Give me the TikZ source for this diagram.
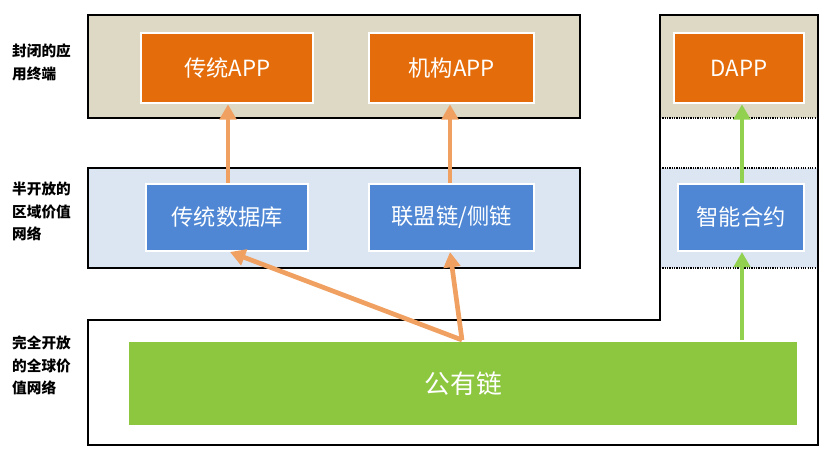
\documentclass[tikz,border=0pt]{standalone}
\usepackage{fontspec}
\setmainfont{Noto Sans CJK SC}
\usetikzlibrary{arrows.meta}
\definecolor{beige}{HTML}{DDD9C4}
\definecolor{paleblue}{HTML}{DCE6F2}
\definecolor{appor}{HTML}{E46C0A}
\definecolor{dbblue}{HTML}{4F87D4}
\definecolor{chaingreen}{HTML}{8DC63F}
\definecolor{arrowor}{HTML}{F0A060}
\definecolor{arrowgr}{HTML}{92D050}
\begin{document}
\begin{tikzpicture}[
  x=0.03cm, y=-0.03cm,
  box/.style={draw=white, line width=2pt, inner sep=0pt, text=white,
    font=\fontsize{19}{22}\selectfont, anchor=north west},
  app/.style={box, fill=appor},
  net/.style={box, fill=dbblue},
  tag/.style={align=left, anchor=north west, font=\fontsize{12.5}{19}\selectfont\bfseries, inner sep=0pt},
  upor/.style={draw=arrowor, line width=4pt, -{Triangle[length=13pt,width=14pt]}},
  upgr/.style={draw=arrowgr, line width=4pt, -{Triangle[length=13pt,width=14pt]}}
]
\useasboundingbox (0,0) rectangle (835,458);

% --- bands ---
\fill[beige] (88,15) rectangle (580,118);
\fill[paleblue] (88,168) rectangle (580,268);
\fill[beige] (660,15) rectangle (818,118);
\fill[paleblue] (660,168) rectangle (818,268);
\draw[line width=1.5pt] (88,15) rectangle (580,118);
\draw[line width=1.5pt] (88,168) rectangle (580,268);
\draw[line width=1.5pt] (88,320) -- (660,320) -- (660,15) -- (818,15) -- (818,445) -- (88,445) -- cycle;
\draw[densely dotted, line width=1pt] (660,118) -- (818,118) (660,168) -- (818,168) (660,268) -- (818,268);

% --- side labels ---
\node[tag] (t1) at (12,44) {封闭的应\\用终端};
\node[tag] (t2) at (12,182) {半开放的\\区域价值\\网络};
\node[tag] (t3) at (12,336) {完全开放\\的全球价\\值网络};

% --- boxes ---
\node[app, minimum width=5.16cm, minimum height=2.1cm] (capp) at (140,32) {传统APP};
\node[app, minimum width=4.95cm, minimum height=2.1cm] (iapp) at (368,32) {机构APP};
\node[app, minimum width=3.9cm, minimum height=2.1cm] (dapp) at (673,32) {DAPP};
\node[net, minimum width=4.86cm, minimum height=2.0cm] (db) at (145,183) {传统数据库};
\node[net, minimum width=4.95cm, minimum height=2.0cm] (alli) at (368,183) {联盟链/侧链};
\node[net, minimum width=3.78cm, minimum height=2.0cm] (sc) at (677,183) {智能合约};
\node[box, fill=chaingreen, minimum width=20.1cm, minimum height=2.55cm, font=\fontsize{22}{26}\selectfont] (pub) at (127,340) {公有链};

% --- arrows ---
\draw[upor] (db.north -| 228,0) -- (capp.south -| 228,0);
\draw[upor] (alli.north -| 450,0) -- (iapp.south -| 450,0);
\draw[upor] (pub.north -| 462,0) -- (db.south -| 230,0);
\draw[upor] (pub.north -| 462,0) -- (alli.south -| 450,0);
\draw[upgr] (pub.north -| 742,0) -- (sc.south -| 742,0);
\draw[upgr] (sc.north -| 742,0) -- (dapp.south -| 742,0);
\end{tikzpicture}
\end{document}
